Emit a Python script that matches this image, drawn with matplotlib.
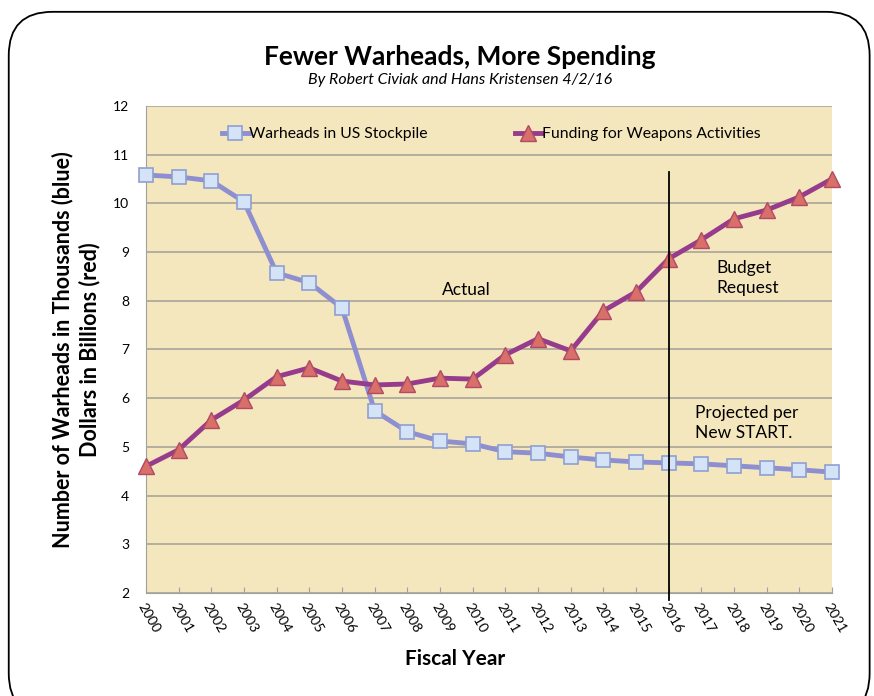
import matplotlib
matplotlib.use('Agg')
from matplotlib import pyplot as plt
from matplotlib.patches import FancyBboxPatch

plt.rcParams['font.family'] = ['Lato', 'DejaVu Sans']

# данные
years = list(range(2000, 2022))
warheads = [10.58, 10.54, 10.46, 10.03, 8.57, 8.37, 7.85, 5.74, 5.31, 5.12, 5.06,
            4.90, 4.87, 4.79, 4.73, 4.69, 4.67, 4.65, 4.61, 4.57, 4.53, 4.48]
funding = [4.60, 4.94, 5.55, 5.96, 6.44, 6.62, 6.35, 6.27, 6.29, 6.41, 6.39,
           6.89, 7.22, 6.97, 7.79, 8.18, 8.86, 9.25, 9.68, 9.86, 10.13, 10.50]
y_ticks = list(range(2, 13))
split_year = 2016

fig = plt.figure(figsize=(8.74, 6.96), dpi=100)

# рамка с закругленными углами
frame = FancyBboxPatch((0.010, -0.03), 0.985, 1.013, boxstyle='round,pad=0,rounding_size=0.05',
                       transform=fig.transFigure, facecolor='none', edgecolor='black',
                       linewidth=1.3, mutation_aspect=874 / 696, zorder=-1)
fig.patches.append(frame)

ax = fig.add_axes([0.167, 0.148, 0.785, 0.70])
ax.set_facecolor('#f5e7bd')

ax.plot(years, warheads, color='#8e8fd0', linewidth=3.5, marker='s', markersize=10,
        markerfacecolor='#d5e3f6', markeredgecolor='#8f9fd3', markeredgewidth=1.2,
        label='Warheads in US Stockpile', zorder=3, clip_on=False)
ax.plot(years, funding, color='#973b8c', linewidth=3.5, marker='^', markersize=11,
        markerfacecolor='#d86f68', markeredgecolor='#b04a66', markeredgewidth=1.0,
        label='Funding for Weapons Activities', zorder=4, clip_on=False)

ax.plot([split_year, split_year], [1.86, 10.64], color='black', linewidth=1.3,
        zorder=5, clip_on=False)

ax.set_xlim(2000, 2021)
ax.set_ylim(2, 12)
ax.set_yticks(y_ticks)
ax.set_xticks(years)
ax.set_xticklabels([str(y) for y in years], rotation=-60, ha='left', va='top',
                   rotation_mode='anchor', fontsize=10)
ax.tick_params(axis='y', length=0, labelsize=10, pad=12)
ax.tick_params(axis='x', length=4, color='#a0a0a0', direction='in', pad=6)
ax.grid(axis='y', color='#a8a49a', linewidth=1.2)
ax.set_axisbelow(True)
for s in ['top', 'right']:
    ax.spines[s].set_visible(False)
for s in ['left', 'bottom']:
    ax.spines[s].set_color('#a0a0a0')

ax.text(2009.8, 8.22, 'Actual', fontsize=12.5, ha='center', va='center')
ax.text(2017.45, 8.47, 'Budget\nRequest', fontsize=12.5, ha='left', va='center',
        linespacing=1.3)
ax.text(2016.8, 5.49, 'Projected per\nNew START.', fontsize=12.5, ha='left', va='center',
        linespacing=1.3)

ax.legend(loc='upper left', bbox_to_anchor=(0.09, 0.985), ncol=2, frameon=False,
          fontsize=11.3, handlelength=1.7, columnspacing=5.6, handletextpad=0.0)

ax.set_xlabel('Fiscal Year', fontsize=15, fontweight='bold')
ax.xaxis.set_label_coords(0.45, -0.115)
ax.set_ylabel('Number of Warheads in Thousands (blue)\nDollars in Billions (red)',
              fontsize=15.5, fontweight='bold', linespacing=1.3)
ax.yaxis.set_label_coords(-0.066, 0.5)

fig.text(0.526, 0.918, 'Fewer Warheads, More Spending', fontsize=19,
         fontweight='bold', ha='center', va='center')
fig.text(0.526, 0.885, 'By Robert Civiak and Hans Kristensen 4/2/16', fontsize=11.5,
         style='italic', ha='center', va='center')

plt.savefig('out.png', dpi=100)
